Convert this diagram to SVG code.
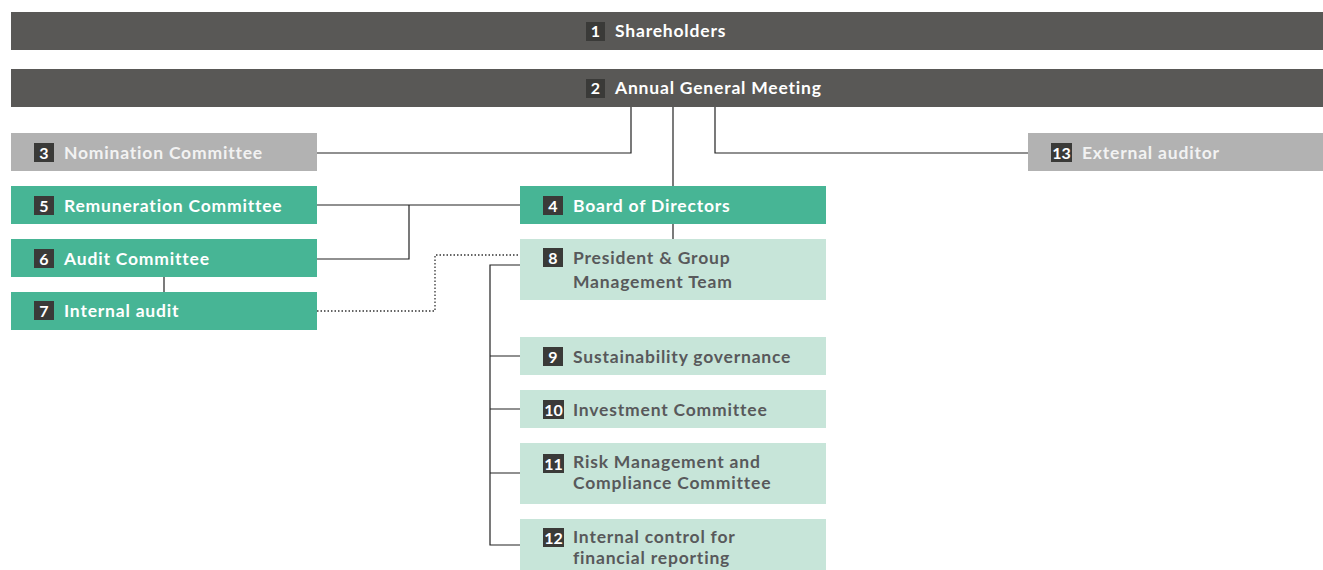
<svg xmlns="http://www.w3.org/2000/svg" width="1323" height="570" viewBox="0 0 1323 570">
<style>
.dark{fill:#595856}
.grey{fill:#b2b2b2}
.green{fill:#47b595}
.lgreen{fill:#c7e5d9}
.badge{fill:#3a3a38}
.num{fill:#ffffff;font-family:Lato,"Open Sans",sans-serif;font-weight:700;font-size:16px;text-anchor:middle}
.lbl{font-family:Lato,"Open Sans",sans-serif;font-weight:700;font-size:17.5px;letter-spacing:0.8px}
.w{fill:#ffffff}
.g{fill:#f2f2f2}
.d{fill:#58595b}
.ln{stroke:#222;stroke-width:1.2;fill:none}
.dot{stroke:#333;stroke-width:1.3;fill:none;stroke-dasharray:1.5 2}
</style>
<rect width="1323" height="570" fill="#ffffff"/>
<g id="connectors">
<path class="ln" d="M631 107V153H317"/>
<path class="ln" d="M673 107V186"/>
<path class="ln" d="M715 107V153H1028"/>
<path class="ln" d="M317 205H520"/>
<path class="ln" d="M317 259H409V205"/>
<path class="ln" d="M164 277V292"/>
<path class="ln" d="M673 224V239"/>
<path class="dot" d="M317 311H435V255H520"/>
<path class="ln" d="M520 265H490V545H520M490 356H520M490 409H520M490 473H520"/>
</g>
<g id="n1"><rect class="dark" x="11" y="12" width="1312" height="38"/><rect class="badge" x="586" y="22" width="19" height="19"/><text class="num" x="595.5" y="37">1</text><text class="lbl w" x="615" y="37">Shareholders</text></g>
<g id="n2"><rect class="dark" x="11" y="69" width="1312" height="38"/><rect class="badge" x="586" y="79" width="19" height="19"/><text class="num" x="595.5" y="94">2</text><text class="lbl w" x="615" y="94">Annual General Meeting</text></g>
<g id="n3"><rect class="grey" x="11" y="133" width="306" height="38"/><rect class="badge" x="34" y="143" width="20" height="19"/><text class="num" x="44" y="158.5">3</text><text class="lbl g" x="64" y="159">Nomination Committee</text></g>
<g id="n13"><rect class="grey" x="1028" y="133" width="295" height="38"/><rect class="badge" x="1051" y="143" width="21" height="19"/><text class="num" x="1061.5" y="158.5">13</text><text class="lbl g" x="1082" y="159">External auditor</text></g>
<g id="n5"><rect class="green" x="11" y="186" width="306" height="38"/><rect class="badge" x="34" y="196" width="20" height="19"/><text class="num" x="44" y="211.5">5</text><text class="lbl w" x="64" y="212">Remuneration Committee</text></g>
<g id="n6"><rect class="green" x="11" y="239" width="306" height="38"/><rect class="badge" x="34" y="249" width="20" height="19"/><text class="num" x="44" y="264.5">6</text><text class="lbl w" x="64" y="265">Audit Committee</text></g>
<g id="n7"><rect class="green" x="11" y="292" width="306" height="38"/><rect class="badge" x="34" y="301" width="20" height="19"/><text class="num" x="44" y="316.5">7</text><text class="lbl w" x="64" y="317">Internal audit</text></g>
<g id="n4"><rect class="green" x="520" y="186" width="306" height="38"/><rect class="badge" x="543" y="196" width="20" height="19"/><text class="num" x="553" y="211.5">4</text><text class="lbl w" x="573" y="212">Board of Directors</text></g>
<g id="n8"><rect class="lgreen" x="520" y="239" width="306" height="61"/><rect class="badge" x="543" y="248" width="20" height="19"/><text class="num" x="553" y="263.5">8</text><text class="lbl d" x="573" y="264">President &amp; Group</text><text class="lbl d" x="573" y="287.5">Management Team</text></g>
<g id="n9"><rect class="lgreen" x="520" y="337" width="306" height="38"/><rect class="badge" x="543" y="347" width="20" height="19"/><text class="num" x="553" y="362.5">9</text><text class="lbl d" x="573" y="363">Sustainability governance</text></g>
<g id="n10"><rect class="lgreen" x="520" y="390" width="306" height="38"/><rect class="badge" x="543" y="400" width="21" height="19"/><text class="num" x="553.5" y="415.5">10</text><text class="lbl d" x="573" y="416">Investment Committee</text></g>
<g id="n11"><rect class="lgreen" x="520" y="443" width="306" height="61"/><rect class="badge" x="543" y="454" width="21" height="19"/><text class="num" x="553.5" y="469.5">11</text><text class="lbl d" x="573" y="468">Risk Management and</text><text class="lbl d" x="573" y="489">Compliance Committee</text></g>
<g id="n12"><rect class="lgreen" x="520" y="519" width="306" height="51"/><rect class="badge" x="543" y="528" width="21" height="19"/><text class="num" x="553.5" y="543.5">12</text><text class="lbl d" x="573" y="543">Internal control for</text><text class="lbl d" x="573" y="564">financial reporting</text></g>
</svg>
